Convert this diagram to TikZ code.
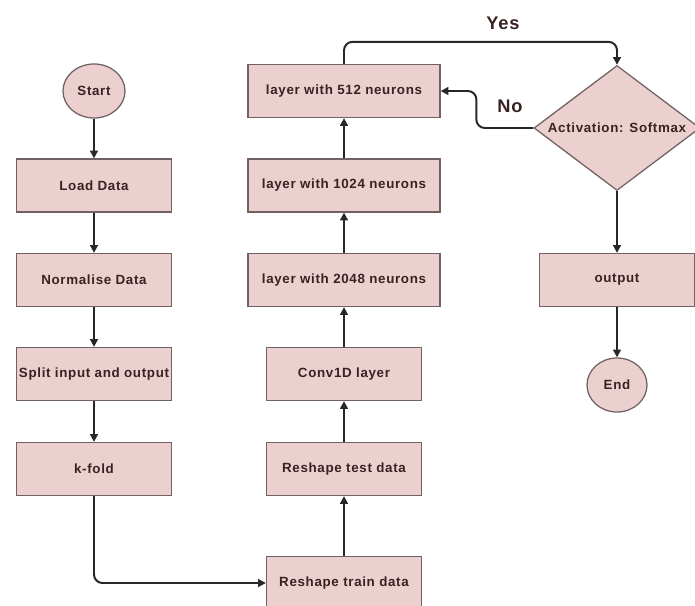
\documentclass[tikz,border=0pt]{standalone}
\usepackage{fontspec}
\setmainfont{Liberation Sans}[LetterSpace=5]
\usetikzlibrary{shapes.geometric,arrows.meta}
\definecolor{boxfill}{RGB}{236,208,208}
\definecolor{boxline}{RGB}{112,98,98}
\definecolor{arrowcol}{RGB}{40,38,38}
\definecolor{txtcol}{RGB}{58,34,34}
\begin{document}
\begin{tikzpicture}[x=0.025cm,y=-0.025cm,font=\fontsize{9.5}{11}\selectfont\bfseries,text=txtcol]
    \useasboundingbox (0,0) rectangle (695,605);
    % start and end
    \begin{scope}[every node/.style={ellipse,draw=boxline,fill=boxfill,line width=0.9pt,minimum height=1.35cm,inner sep=0pt}]
        \node[minimum width=1.55cm] (start) at (94,91)  {Start};
        \node[minimum width=1.5cm]  (stop)  at (617,385) {End};
    \end{scope}
    % process boxes
    \begin{scope}[every node/.style={rectangle,draw=boxline,fill=boxfill,line width=0.9pt,minimum width=3.875cm,minimum height=1.325cm,inner sep=1pt}]
        \node (load)  at (94,185.5) {Load Data};
        \node (norm)  at (94,280)   {Normalise Data};
        \node (split) at (94,374)   {Split input and output};
        \node (kfold) at (94,469)   {k-fold};
        \node (train) at (344,583)  {Reshape train data};
        \node (test)  at (344,469)  {Reshape test data};
        \node (conv)  at (344,374)  {Conv1D layer};
        \node[minimum width=4.8cm] (l2048) at (344,280)   {layer with 2048 neurons};
        \node[minimum width=4.8cm] (l1024) at (344,185.5) {layer with 1024 neurons};
        \node[minimum width=4.8cm] (l512)  at (344,91)    {layer with 512 neurons};
        \node (out)   at (617,280)  {output};
    \end{scope}
    \node[diamond,draw=boxline,fill=boxfill,line width=0.9pt,inner sep=0pt,aspect=1.33,
          minimum width=4.15cm,minimum height=3.125cm] (act) at (617,128) {Activation: Softmax};
    % labels
    \node[font=\fontsize{13}{15}\selectfont\bfseries] (yes) at (503,23)  {Yes};
    \node[font=\fontsize{13}{15}\selectfont\bfseries] (no)  at (510,106) {No};
    % connectors
    \begin{scope}[line width=1.4pt,draw=arrowcol,rounded corners=6pt,-{Triangle[length=5.5pt,width=5.5pt]}]
        \draw (start) -- (load);
        \draw (load)  -- (norm);
        \draw (norm)  -- (split);
        \draw (split) -- (kfold);
        \draw (kfold.south) |- (train.west);
        \draw (train) -- (test);
        \draw (test)  -- (conv);
        \draw (conv)  -- (l2048);
        \draw (l2048) -- (l1024);
        \draw (l1024) -- (l512);
        \draw (l512.north) -- ++(0,-22) -| (act.north);
        \draw (act.west) -- ++(-57,0) |- (l512.east);
        \draw (act)   -- (out);
        \draw (out)   -- (stop);
    \end{scope}
\end{tikzpicture}
\end{document}
